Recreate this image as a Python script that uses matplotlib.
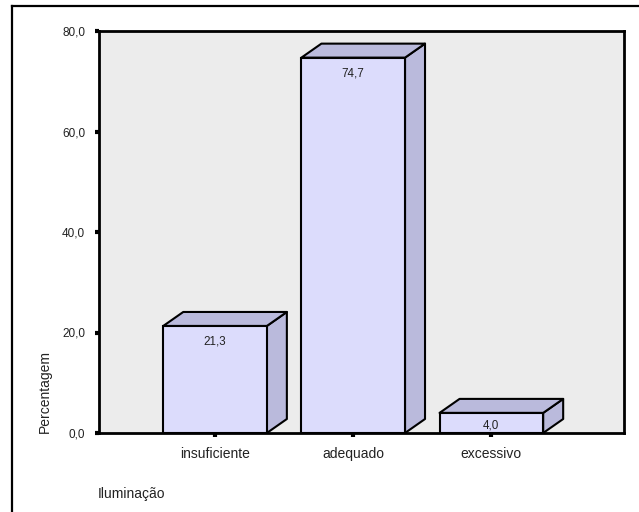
import matplotlib
matplotlib.use("Agg")
import matplotlib.pyplot as plt
from matplotlib.patches import Polygon
from matplotlib.lines import Line2D

categories = ["insuficiente", "adequado", "excessivo"]
values = [21.3, 74.7, 4.0]
yticks = [0, 20, 40, 60, 80]
ytick_labels = ["0,0", "20,0", "40,0", "60,0", "80,0"]
y_title = "Percentagem"
x_title = "Iluminação"

plt.rcParams["font.family"] = ["Liberation Sans", "DejaVu Sans"]

W, H = 639, 512
fig = plt.figure(figsize=(W / 100, H / 100), dpi=100)

# plot area in pixel coordinates
px_left, px_right, px_top, px_bottom = 99, 624, 31, 433
ax = fig.add_axes([px_left / W, 1 - px_bottom / H,
                   (px_right - px_left) / W, (px_bottom - px_top) / H])
ax.set_facecolor("#ececec")

xmin, xmax = -0.84, 2.96
ymin, ymax = 0, 80
ax.set_xlim(xmin, xmax)
ax.set_ylim(ymin, ymax)

front = "#dcdcfc"
shade = "#babadc"
width = 0.75
px_per_unit = (px_bottom - px_top) / (ymax - ymin)
# 3D depth offset expressed in data units (20 px right, 14 px up)
ddx = 20 * (xmax - xmin) / (px_right - px_left)
ddy = 14 / px_per_unit

x = list(range(len(categories)))
for xi, v in zip(x, values):
    x0, x1 = xi - width / 2, xi + width / 2
    top = Polygon([(x0, v), (x1, v), (x1 + ddx, v + ddy), (x0 + ddx, v + ddy)],
                  closed=True, facecolor=shade, edgecolor="black",
                  linewidth=1.5, joinstyle="round", zorder=3)
    side = Polygon([(x1, 0), (x1 + ddx, ddy), (x1 + ddx, v + ddy), (x1, v)],
                   closed=True, facecolor=shade, edgecolor="black",
                   linewidth=1.5, joinstyle="round", zorder=3)
    ax.add_patch(side)
    ax.add_patch(top)
    # value label sits just below the bar top, kept inside short bars
    offset_px = min(16, v * px_per_unit - 7)
    ax.text(xi, v - offset_px / px_per_unit, f"{v:.1f}".replace(".", ","),
            ha="center", va="center", fontsize=8.4, color="#222222", zorder=5)

ax.bar(x, values, width=width, color=front, edgecolor="black",
       linewidth=1.5, zorder=4)

for s in ax.spines.values():
    s.set_linewidth(2)
    s.set_color("black")
    s.set_zorder(4.5)

ax.set_yticks(yticks)
ax.set_yticklabels(ytick_labels, fontsize=8.5, color="#222222")
ax.set_xticks(x)
ax.set_xticklabels(categories, fontsize=10, color="#222222")
ax.tick_params(axis="y", direction="out", length=3, width=3, pad=7)
ax.tick_params(axis="x", direction="out", length=3, width=3, pad=7)

fig.text(45 / W, 1 - 433 / H, y_title, rotation=90, ha="center", va="bottom",
         fontsize=10, color="#222222")
fig.text(98 / W, 1 - 494 / H, x_title, ha="left", va="center",
         fontsize=10, color="#222222")

# frame lines along the left and top of the figure
fig.add_artist(Line2D([11.5 / W, 11.5 / W], [0, 1 - 5.5 / H],
                      transform=fig.transFigure, color="black", linewidth=1.6))
fig.add_artist(Line2D([11.5 / W, 638 / W], [1 - 5.5 / H, 1 - 5.5 / H],
                      transform=fig.transFigure, color="black", linewidth=1.6))

fig.savefig("out.png", dpi=100)
